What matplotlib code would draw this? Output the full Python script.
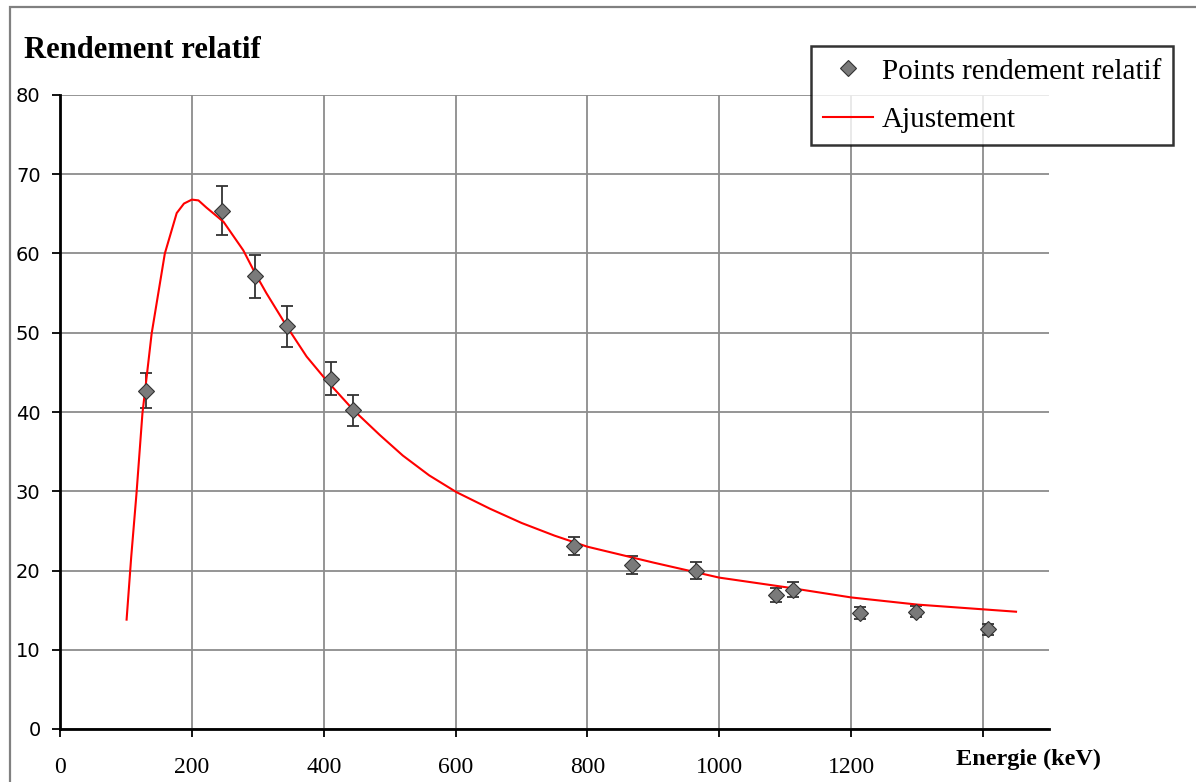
import matplotlib.pyplot as plt
from matplotlib.patches import Rectangle
from matplotlib.lines import Line2D

# measured points (Eu-152 lines)
energies = [131, 245, 296, 344, 411, 444, 779, 867, 964, 1086, 1112, 1213, 1299, 1408]
rendement = [42.7, 65.4, 57.1, 50.8, 44.2, 40.2, 23.1, 20.7, 20.0, 16.9, 17.6, 14.6, 14.8, 12.6]
erreurs = [2.2, 3.1, 2.75, 2.55, 2.1, 2.0, 1.15, 1.15, 1.05, 0.9, 0.9, 0.75, 0.7, 0.7]

# fitted curve
fit_e = [101, 108, 116, 125, 139, 159, 177, 188, 200, 210, 222, 248, 278, 296, 313, 344,
         374, 404, 445, 485, 520, 560, 601, 652, 700, 750, 800, 900, 1000, 1100, 1200,
         1300, 1400, 1450]
fit_r = [13.8, 21.7, 29.7, 39.8, 49.9, 60.0, 65.1, 66.3, 66.8, 66.7, 65.8, 64.0, 60.4, 57.5,
         55.0, 50.8, 47.0, 44.0, 40.25, 37.1, 34.5, 32.0, 29.9, 27.8, 26.0, 24.4, 23.0, 21.0,
         19.1, 17.9, 16.6, 15.7, 15.1, 14.8]

x_ticks = [0, 200, 400, 600, 800, 1000, 1200, 1400]
x_labels = ['0', '200', '400', '600', '800', '1000', '1200', '']
y_ticks = [0, 10, 20, 30, 40, 50, 60, 70, 80]

serif = 'Liberation Serif'

fig = plt.figure(figsize=(11.96, 7.82), dpi=100)
W, H = 1196, 782
ax = fig.add_axes([60 / W, 1 - 729 / H, (1049 - 60) / W, (729 - 95) / H])

# outer frame of the chart
fig.patches.append(Rectangle((10 / W, -0.05), 1.2, 1 - 7 / H + 0.05, transform=fig.transFigure,
                             fill=False, edgecolor='#808080', linewidth=1.6))

ax.errorbar(energies, rendement, yerr=erreurs, fmt='none', ecolor='#333333',
            elinewidth=1.3, capsize=4.5, capthick=1.3, zorder=3)
ax.plot(energies, rendement, linestyle='none', marker='D', markersize=8,
        markerfacecolor='#7a7a7a', markeredgecolor='#333333', markeredgewidth=0.8, zorder=4)
ax.plot(fit_e, fit_r, color='#ff0000', linewidth=1.5, zorder=3.5)

ax.set_xlim(0, 1500)
ax.set_ylim(0, 80)
ax.set_xticks(x_ticks)
ax.set_xticklabels(x_labels, fontfamily=serif, fontsize=17)
ax.set_yticks(y_ticks)
ax.set_yticklabels([str(v) for v in y_ticks], fontfamily='DejaVu Sans', fontsize=14)
ax.tick_params(axis='y', direction='out', length=6, width=1.3, pad=8)
ax.tick_params(axis='x', direction='out', length=6, width=1.3, pad=14)

ax.grid(True, color='#8c8c8c', linewidth=1.3)
ax.set_axisbelow(True)
for s in ['top', 'right']:
    ax.spines[s].set_visible(False)
for s in ['left', 'bottom']:
    ax.spines[s].set_linewidth(2)
    ax.spines[s].set_color('black')

fig.text(24 / W, 1 - 50 / H, 'Rendement relatif', fontfamily=serif, fontweight='bold',
         fontsize=22, ha='left', va='center')
fig.text(1029 / W, 1 - 759 / H, 'Energie (keV)', fontfamily=serif, fontweight='bold',
         fontsize=17.5, ha='center', va='center')

handles = [Line2D([], [], linestyle='none', marker='D', markersize=8, markerfacecolor='#7a7a7a',
                  markeredgecolor='#333333', markeredgewidth=0.8),
           Line2D([], [], color='#ff0000', linewidth=1.5)]
leg = fig.legend(handles, ['Points rendement relatif', 'Ajustement'],
                 loc='upper left', bbox_to_anchor=(811 / W, 1 - 46 / H),
                 prop={'family': serif, 'size': 21}, frameon=True, fancybox=False,
                 edgecolor='black', borderpad=0.42, handlelength=1.7, handletextpad=0.3,
                 labelspacing=0.75, borderaxespad=0)
leg.get_frame().set_linewidth(1.8)

fig.savefig('out.png', dpi=100)
